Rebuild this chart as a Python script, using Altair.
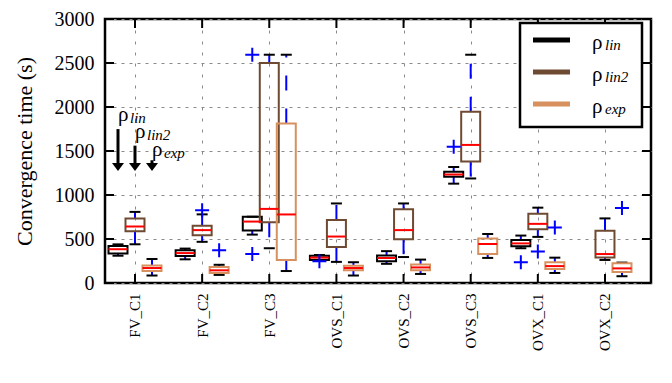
import json
import altair as alt
import pandas as pd

# ---------------- data ----------------
groups = ["FV_C1", "FV_C2", "FV_C3", "OVS_C1", "OVS_C2", "OVS_C3", "OVX_C1", "OVX_C2"]
series = ["lin", "lin2", "exp"]
series_colors = ["#000000", "#6f4a32", "#d8905e"]

# five-number summaries per series (None = no box)
lin_wlo = [310, 269, 550, 255, 218, 1129, 395, None]
lin_q1 = [335, 307, 598, 262, 247, 1207, 417, None]
lin_med = [384, 340, 698, 288, 284, 1233, 450, None]
lin_q3 = [421, 373, 753, 310, 313, 1265, 490, None]
lin_whi = [439, 391, 753, 318, 362, 1318, 539, None]

lin2_wlo = [440, 468, 395, 240, 295, 1188, 524, 262]
lin2_q1 = [587, 542, 690, 410, 498, 1380, 612, 291]
lin2_med = [642, 601, 842, 528, 601, 1569, 672, 329]
lin2_q3 = [734, 650, 2499, 716, 838, 1945, 786, 594]
lin2_whi = [808, 780, 2594, 904, 904, 2594, 856, 734]

exp_wlo = [85, 92, 136, 85, 103, 285, 114, 77]
exp_q1 = [136, 114, 262, 144, 144, 329, 158, 125]
exp_med = [170, 144, 779, 170, 177, 443, 192, 166]
exp_q3 = [199, 181, 1812, 196, 210, 506, 236, 225]
exp_whi = [273, 207, 2594, 236, 266, 557, 288, 232]

# outliers
out_group = ["FV_C2", "FV_C2", "FV_C3", "FV_C3", "OVS_C1", "OVS_C3", "OVX_C1", "OVX_C1", "OVX_C1", "OVX_C2"]
out_series = ["lin2", "exp", "lin", "lin", "lin", "lin", "lin", "lin2", "exp", "exp"]
out_value = [827, 373, 2594, 329, 247, 1547, 236, 358, 631, 852]

y_ticks = [0, 500, 1000, 1500, 2000, 2500, 3000]

# annotation (arrows over FV_C1)
ann_sub = ["lin", "lin2", "exp"]
ann_arrow_top = [1749, 1561, 1395]
ann_arrow_tip = [1273, 1273, 1273]
ann_rho_y = [1841, 1645, 1440]
ann_sub_y = [1823, 1627, 1422]

# ---------------- layout constants ----------------
W, H = 546, 264
OFFSET = {"lin": -0.2532, "lin2": 0.0, "exp": 0.2532}
BOX_HALF = 0.1415
CAP_HALF = 0.082
FONT = "Liberation Serif"

stats = {
    "lin": (lin_wlo, lin_q1, lin_med, lin_q3, lin_whi),
    "lin2": (lin2_wlo, lin2_q1, lin2_med, lin2_q3, lin2_whi),
    "exp": (exp_wlo, exp_q1, exp_med, exp_q3, exp_whi),
}
rows = []
for s in series:
    wlo, q1, med, q3, whi = stats[s]
    for i, g in enumerate(groups):
        if med[i] is None:
            continue
        pos = i + 1 + OFFSET[s]
        rows.append(dict(group=g, series=s, pos=pos, wlo=wlo[i], q1=q1[i], med=med[i],
                         q3=q3[i], whi=whi[i], bl=pos - BOX_HALF, br=pos + BOX_HALF,
                         cl=pos - CAP_HALF, cr=pos + CAP_HALF))
df = pd.DataFrame(rows)

out_df = pd.DataFrame({
    "pos": [groups.index(g) + 1 + OFFSET[s] for g, s in zip(out_group, out_series)],
    "value": out_value,
})

xscale = alt.Scale(domain=[0.5532, 8.6855], nice=False, zero=False)
yscale = alt.Scale(domain=[0, 3000], nice=False, zero=True)
cscale = alt.Scale(domain=series, range=series_colors)

xaxis = alt.Axis(values=list(range(1, len(groups) + 1)),
                 labelExpr=json.dumps(groups) + "[datum.value - 1]",
                 title="", grid=True, gridDash=[3, 8], gridColor="#8a8a8a", gridWidth=1,
                 ticks=False, tickSize=0, domain=False, labelAngle=270, labelFontSize=15,
                 labelFont=FONT, labelColor="black", labelPadding=10,
                 labelFlush=False, labelOverlap=False)
yaxis = alt.Axis(values=y_ticks, format="d", title="Convergence time (s)", grid=True,
                 gridDash=[3, 5], gridColor="#8a8a8a", gridWidth=1, ticks=False, tickSize=0,
                 domain=False, labelFontSize=20, labelFont=FONT, labelColor="black",
                 labelPadding=11, labelFlush=False, labelOverlap=False,
                 titleFont=FONT, titleFontSize=22, titleFontWeight="normal",
                 titleColor="black", titlePadding=18)


def X(f):
    return alt.X(f, scale=xscale, axis=xaxis)


def Y(f):
    return alt.Y(f, scale=yscale, axis=yaxis)


base = alt.Chart(df)

whisk_hi = base.mark_rule(color="#0000ff", strokeWidth=2, strokeDash=[15, 18]).encode(
    x=X("pos:Q"), y=Y("q3:Q"), y2="whi:Q")
whisk_lo = base.mark_rule(color="#0000ff", strokeWidth=2, strokeDash=[15, 18]).encode(
    x=X("pos:Q"), y=Y("q1:Q"), y2="wlo:Q")
cap_hi = base.mark_rule(color="black", strokeWidth=2).encode(
    x=X("cl:Q"), x2="cr:Q", y=Y("whi:Q"))
cap_lo = base.mark_rule(color="black", strokeWidth=2).encode(
    x=X("cl:Q"), x2="cr:Q", y=Y("wlo:Q"))
boxes = base.mark_rect(fillOpacity=0, strokeWidth=2).encode(
    x=X("bl:Q"), x2="br:Q", y=Y("q1:Q"), y2="q3:Q",
    stroke=alt.Stroke("series:N", scale=cscale, legend=None))
medians = base.mark_rule(color="#ff0000", strokeWidth=2).encode(
    x=X("bl:Q"), x2="br:Q", y=Y("med:Q"))
fliers = alt.Chart(out_df).mark_point(shape="M-1,0L1,0M0,-1L0,1", size=196, filled=False,
                                      color="#0000ff", strokeWidth=2, opacity=1).encode(
    x=X("pos:Q"), y=Y("value:Q"))

# inward ticks on all four sides
ytdf = pd.DataFrame({"v": y_ticks})
xtdf = pd.DataFrame({"p": list(range(1, len(groups) + 1))})
tick_left = alt.Chart(ytdf).mark_rule(color="black", strokeWidth=2).encode(
    x=alt.value(0), x2=alt.value(9), y=Y("v:Q"))
tick_right = alt.Chart(ytdf).mark_rule(color="black", strokeWidth=2).encode(
    x=alt.value(W - 9), x2=alt.value(W), y=Y("v:Q"))
tick_top = alt.Chart(xtdf).mark_rule(color="black", strokeWidth=2).encode(
    x=X("p:Q"), y=alt.value(0), y2=alt.value(9))
tick_bot = alt.Chart(xtdf).mark_rule(color="black", strokeWidth=2).encode(
    x=X("p:Q"), y=alt.value(H - 9), y2=alt.value(H))

# annotation arrows
ann_df = pd.DataFrame({
    "x": [1 + OFFSET[s] for s in series],
    "top": ann_arrow_top,
    "head": [t + 45 for t in ann_arrow_tip],
    "shaft_end": [t + 60 for t in ann_arrow_tip],
    "rho_y": ann_rho_y,
    "sub_y": ann_sub_y,
    "sub": ann_sub,
})
shafts = alt.Chart(ann_df).mark_rule(color="black", strokeWidth=3).encode(
    x=X("x:Q"), y=Y("top:Q"), y2="shaft_end:Q")
heads = alt.Chart(ann_df).mark_point(shape="M-1,-0.667L1,-0.667L0,0.667Z", size=144,
                                     filled=True, color="black", opacity=1).encode(
    x=X("x:Q"), y=Y("head:Q"))
rho_txt = alt.Chart(ann_df).mark_text(text="ρ", align="left", baseline="alphabetic",
                                      font=FONT, fontSize=21, color="black").encode(
    x=X("x:Q"), y=Y("rho_y:Q"))
sub_txt = alt.Chart(ann_df).mark_text(align="left", baseline="alphabetic", dx=12,
                                      font=FONT, fontSize=15, fontStyle="italic",
                                      color="black").encode(
    x=X("x:Q"), y=Y("sub_y:Q"), text="sub:N")

# legend drawn as marks (upper right)
one = pd.DataFrame({"a": [0]})
legend_layers = [
    alt.Chart(one).mark_rect(fill="white", stroke="black", strokeWidth=2.5).encode(
        x=alt.value(415), x2=alt.value(537), y=alt.value(4), y2=alt.value(108))
]
for k, (s, c) in enumerate(zip(series, series_colors)):
    ly = 21 + 32 * k
    legend_layers.append(alt.Chart(one).mark_rule(color=c, strokeWidth=5).encode(
        x=alt.value(428), x2=alt.value(465), y=alt.value(ly)))
    legend_layers.append(alt.Chart(one).mark_text(
        text="ρ", align="left", baseline="alphabetic", font=FONT, fontSize=21,
        color="black").encode(x=alt.value(487), y=alt.value(ly + 9)))
    legend_layers.append(alt.Chart(one).mark_text(
        text=s, align="left", baseline="alphabetic", font=FONT, fontSize=15,
        fontStyle="italic", color="black").encode(x=alt.value(500), y=alt.value(ly + 10)))

chart = alt.layer(
    whisk_hi, whisk_lo, cap_hi, cap_lo, boxes, medians, fliers,
    tick_left, tick_right, tick_top, tick_bot,
    shafts, heads, rho_txt, sub_txt,
    *legend_layers,
).properties(
    width=W, height=H,
    autosize=alt.AutoSizeParams(type="none"),
    padding={"left": 97, "top": 11, "right": 5, "bottom": 85},
    background="white",
).configure_view(stroke="black", strokeWidth=2.5)

chart.save("out.html", embed_options={"renderer": "svg", "actions": False})
